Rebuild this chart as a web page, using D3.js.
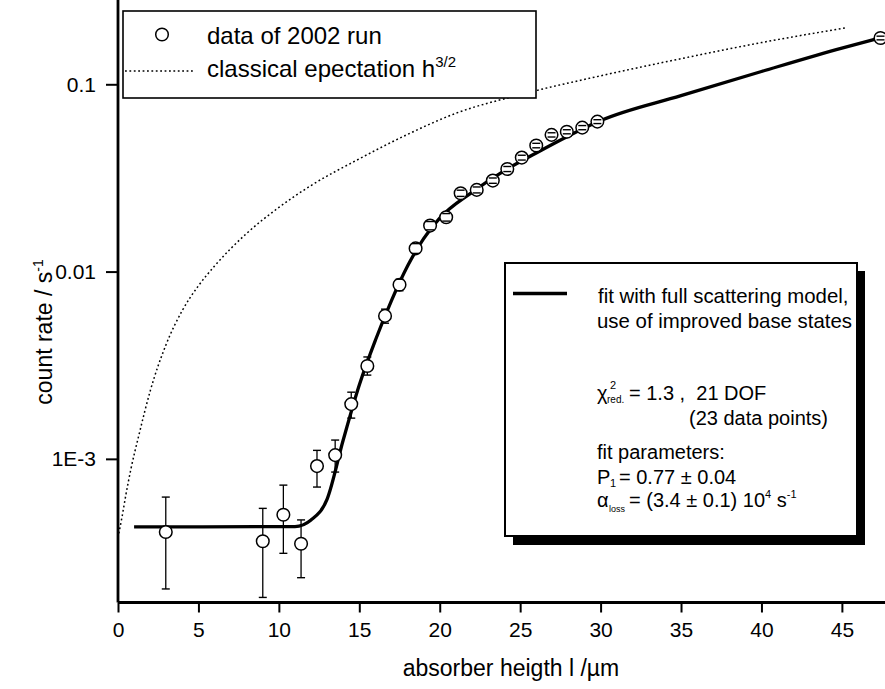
<!DOCTYPE html>
<html>
<head>
<meta charset="utf-8">
<script src="https://cdn.jsdelivr.net/npm/d3@7"></script>
<style>
  body { margin: 0; background: #fff; }
  text { font-family: "Liberation Sans", Arial, sans-serif; fill: #000; }
</style>
</head>
<body>
<div class="canvas"></div>
<script>
// Data
const hData = [2.97, 9.0, 10.28, 11.38, 12.37, 13.5, 14.5, 15.5, 16.6, 17.5, 18.5, 19.4, 20.4, 21.3, 22.3, 23.3, 24.2, 25.1, 26.0, 26.95, 27.9, 28.86, 29.8, 47.4]
const rateData = [4.07e-4, 3.63e-4, 5.03e-4, 3.52e-4, 9.15e-4, 1.047e-3, 1.96e-3, 3.13e-3, 5.8e-3, 8.5e-3, 0.0133, 0.0176, 0.0195, 0.0262, 0.0273, 0.0306, 0.0353, 0.0406, 0.0471, 0.0537, 0.0558, 0.0587, 0.0632, 0.1767]
const rateLo = [2.02e-4, 1.82e-4, 3.13e-4, 2.32e-4, 7.07e-4, 8.5e-4, 1.65e-3, 2.8e-3, 5.3e-3, 0.0079, 0.0125, 0.0167, 0.0186, 0.0252, 0.0263, 0.0296, 0.0342, 0.0394, 0.0458, 0.0523, 0.0544, 0.0572, 0.0617, 0.1727]
const rateHi = [6.25e-4, 5.44e-4, 7.24e-4, 4.72e-4, 1.11e-3, 1.26e-3, 2.27e-3, 3.5e-3, 6.3e-3, 0.0091, 0.0141, 0.0185, 0.0204, 0.0272, 0.0283, 0.0316, 0.0364, 0.0418, 0.0484, 0.0551, 0.0572, 0.0602, 0.0647, 0.1807]

// fit with full scattering model
const fitH = [1, 11, 12, 13, 14, 15, 16, 17, 18, 19, 20, 22, 24, 26, 28, 30, 35, 40, 45, 47.5]
const fitRate = [4.33e-4, 4.35e-4, 4.72e-4, 6.1e-4, 1.26e-3, 2.48e-3, 4.3e-3, 7.0e-3, 0.0107, 0.015, 0.0193, 0.0265, 0.0345, 0.043, 0.053, 0.064, 0.087, 0.117, 0.156, 0.178]

// classical expectation h^3/2
const classH = [0, 0.25, 0.5, 0.8, 1.3, 2, 3, 4, 5, 6, 8, 10, 12, 15, 18, 21, 25, 30, 35, 40, 45.2]
const classRate = [3.8e-4, 4.9e-4, 6.5e-4, 8.8e-4, 1.34e-3, 2.3e-3, 4.1e-3, 6.2e-3, 8.4e-3, 0.0107, 0.016, 0.022, 0.0288, 0.040, 0.054, 0.070, 0.088, 0.111, 0.137, 0.167, 0.200]

// Ticks
const xTicks = [0, 5, 10, 15, 20, 25, 30, 35, 40, 45]
const xMinorTicks = [2.5, 7.5, 12.5, 17.5, 22.5, 27.5, 32.5, 37.5, 42.5, 47.5]
const yTicks = [0.1, 0.01, 0.001]
const yTickLabels = ['0.1', '0.01', '1E-3']

const width = 885
const height = 689
const margin = { top: 0, right: 0, bottom: 86.5, left: 118 }
const graphWidth = width - margin.left - margin.right
const graphHeight = height - margin.top - margin.bottom

const svg = d3.select('.canvas')
  .append('svg')
  .attr('width', width)
  .attr('height', height)

const graph = svg.append('g')
  .attr('transform', `translate(${margin.left}, ${margin.top})`)

// Scales
const x = d3.scaleLinear()
  .domain([0, 47.68])
  .range([0, graphWidth])

const y = d3.scaleLog()
  .domain([1.71e-4, 0.2819])
  .range([graphHeight, 0])

const curve = d3.line()
  .x(d => x(d[0]))
  .y(d => y(d[1]))
  .curve(d3.curveMonotoneX)

// Dotted classical curve
graph.append('path')
  .attr('d', curve(classH.map((h, i) => [h, classRate[i]])))
  .attr('fill', 'none')
  .attr('stroke', '#000')
  .attr('stroke-width', 1.5)
  .attr('stroke-dasharray', '1.8,2.6')

// Fit curve
graph.append('path')
  .attr('d', curve(fitH.map((h, i) => [h, fitRate[i]])))
  .attr('fill', 'none')
  .attr('stroke', '#000')
  .attr('stroke-width', 3.3)
  .attr('stroke-linejoin', 'round')

// Error bars
const points = hData.map((h, i) => ({ h: h, v: rateData[i], lo: rateLo[i], hi: rateHi[i] }))

graph.selectAll('line.err')
  .data(points)
  .enter()
  .append('line')
  .attr('class', 'err')
  .attr('x1', d => x(d.h))
  .attr('x2', d => x(d.h))
  .attr('y1', d => y(d.lo))
  .attr('y2', d => y(d.hi))
  .attr('stroke', '#000')
  .attr('stroke-width', 1.3)

graph.selectAll('circle')
  .data(points)
  .enter()
  .append('circle')
  .attr('cx', d => x(d.h))
  .attr('cy', d => y(d.v))
  .attr('r', 6.3)
  .attr('fill', '#fff')
  .attr('stroke', '#000')
  .attr('stroke-width', 1.5)

const caps = []
points.forEach(d => { caps.push([d.h, d.lo]); caps.push([d.h, d.hi]) })
graph.selectAll('line.cap')
  .data(caps)
  .enter()
  .append('line')
  .attr('class', 'cap')
  .attr('x1', d => x(d[0]) - 4)
  .attr('x2', d => x(d[0]) + 4)
  .attr('y1', d => y(d[1]))
  .attr('y2', d => y(d[1]))
  .attr('stroke', '#000')
  .attr('stroke-width', 1.4)

// Axes
const xAxisGroup = graph.append('g').attr('transform', `translate(0, ${graphHeight})`)
const yAxisGroup = graph.append('g')

const xAxis = d3.axisBottom(x)
  .tickValues(xTicks)
  .tickSize(10)
  .tickPadding(10)
  .tickFormat(d3.format('d'))

const xMinor = d3.axisBottom(x)
  .tickValues(xMinorTicks)
  .tickSize(6)
  .tickFormat('')

const yMinorTicks = []
;[1e-4, 1e-3, 1e-2, 1e-1].forEach(dec => {
  for (let k = 2; k <= 9; k++) {
    const v = dec * k
    if (v > 1.71e-4 && v < 0.2819) yMinorTicks.push(v)
  }
})

const yAxis = d3.axisLeft(y)
  .tickValues(yTicks)
  .tickSize(12)
  .tickPadding(10)
  .tickFormat((d, i) => yTickLabels[i])

const yMinor = d3.axisLeft(y)
  .tickValues(yMinorTicks)
  .tickSize(8)
  .tickFormat('')

xAxisGroup.append('g').call(xMinor)
xAxisGroup.call(xAxis)
yAxisGroup.append('g').call(yMinor)
yAxisGroup.call(yAxis)

svg.selectAll('.domain')
  .attr('stroke', '#000')
  .attr('stroke-width', 2.8)
svg.selectAll('.tick line')
  .attr('stroke', '#000')
  .attr('stroke-width', 2)
svg.selectAll('.tick text')
  .attr('font-size', 21)
  .attr('font-family', '"Liberation Sans", Arial, sans-serif')
  .attr('fill', '#000')
// keep domain paths flat (no outer ticks)
xAxisGroup.selectAll('.domain').attr('d', `M0,0H${graphWidth}`)
yAxisGroup.selectAll('.domain').attr('d', `M0,${graphHeight}V0`)

// Axis titles
svg.append('text')
  .attr('x', 511)
  .attr('y', 676)
  .attr('text-anchor', 'middle')
  .attr('font-size', 23)
  .text('absorber heigth l /µm')

const yTitle = svg.append('text')
  .attr('transform', 'translate(52, 332) rotate(-90)')
  .attr('text-anchor', 'middle')
  .attr('font-size', 23)
yTitle.append('tspan').text('count rate / s')
yTitle.append('tspan').attr('font-size', 14).attr('dy', -9).text('-1')

// Top-left legend
const leg1 = svg.append('g')
leg1.append('rect')
  .attr('x', 123).attr('y', 11)
  .attr('width', 413).attr('height', 87)
  .attr('fill', '#fff')
  .attr('stroke', '#000')
  .attr('stroke-width', 1.6)
leg1.append('circle')
  .attr('cx', 162).attr('cy', 34.5).attr('r', 6.3)
  .attr('fill', '#fff').attr('stroke', '#000').attr('stroke-width', 1.5)
leg1.append('text')
  .attr('x', 207).attr('y', 44)
  .attr('font-size', 24)
  .text('data of 2002 run')
leg1.append('line')
  .attr('x1', 125).attr('x2', 195)
  .attr('y1', 71).attr('y2', 71)
  .attr('stroke', '#000').attr('stroke-width', 1.5)
  .attr('stroke-dasharray', '1.8,2.6')
const legText2 = leg1.append('text')
  .attr('x', 207).attr('y', 77)
  .attr('font-size', 24)
legText2.append('tspan').text('classical epectation h')
legText2.append('tspan').attr('font-size', 15).attr('dy', -10).text('3/2')

// Right legend with shadow
const leg2 = svg.append('g')
leg2.append('rect')
  .attr('x', 513).attr('y', 271)
  .attr('width', 352).attr('height', 274)
  .attr('fill', '#000')
leg2.append('rect')
  .attr('x', 505).attr('y', 263)
  .attr('width', 352).attr('height', 273)
  .attr('fill', '#fff')
  .attr('stroke', '#000')
  .attr('stroke-width', 2)
leg2.append('line')
  .attr('x1', 513).attr('x2', 567)
  .attr('y1', 293.5).attr('y2', 293.5)
  .attr('stroke', '#000').attr('stroke-width', 3.3)

const fs = 20
const addText = (xPos, yPos, txt, size) => leg2.append('text')
  .attr('x', xPos).attr('y', yPos)
  .attr('font-size', size || fs)
  .style('white-space', 'pre')
  .text(txt)

addText(598, 303, 'fit with full scattering model,').attr('font-size', 20.4)
addText(597, 328, 'use of improved base states').attr('font-size', 20.4)
addText(597, 400, 'χ')
addText(610, 389, '2', 11)
addText(607, 403, 'red.', 10)
addText(629, 400, '= 1.3 ,  21 DOF')
addText(689, 425, '(23 data points)')
addText(597, 459, 'fit parameters:')
addText(597, 484, 'P')
addText(610, 487, '1', 11)
addText(619, 484, '= 0.77 ± 0.04')
addText(597, 507, 'α')
addText(609, 512, 'loss', 9)
const alphaText = addText(629, 507, '= (3.4 ± 0.1) 10')
alphaText.append('tspan').attr('font-size', 11).attr('dy', -9).text('4')
alphaText.append('tspan').attr('dy', 9).text(' s')
alphaText.append('tspan').attr('font-size', 11).attr('dy', -9).text('-1')
</script>
</body>
</html>
